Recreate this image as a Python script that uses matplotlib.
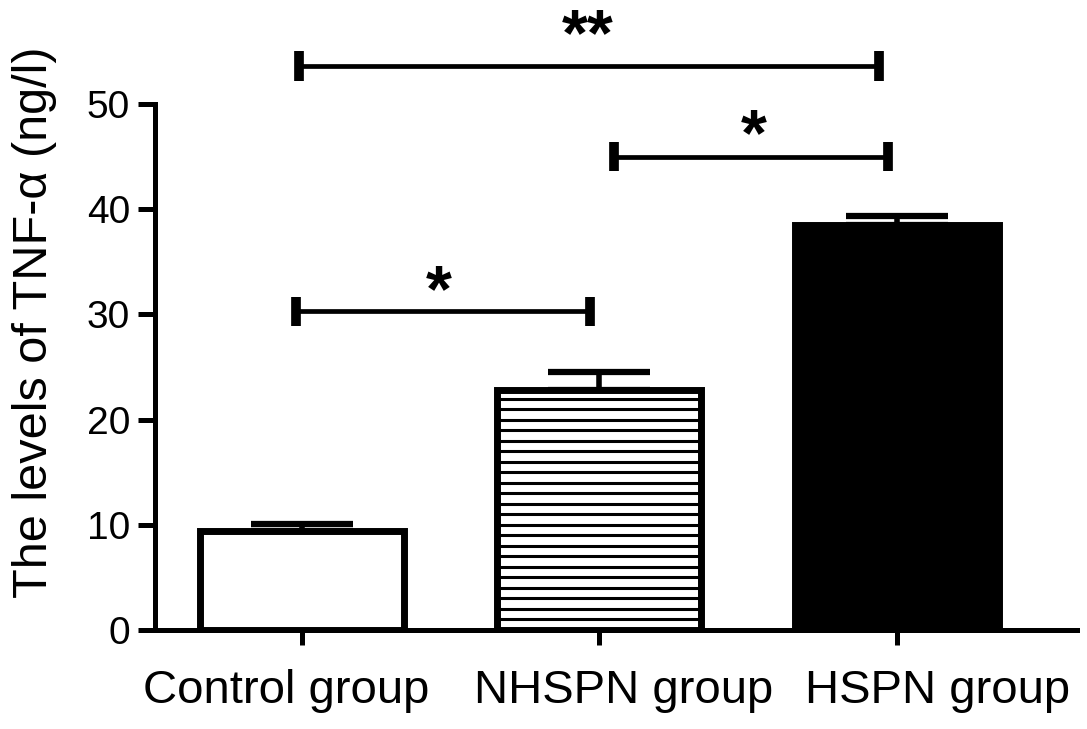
import matplotlib
matplotlib.use("Agg")
import matplotlib.pyplot as plt
import matplotlib.transforms as mtransforms
import numpy as np

groups = ["Control group", "NHSPN group", "HSPN group"]
means = [9.4, 22.8, 38.5]
errs = [0.7, 1.7, 0.9]

# significance brackets: start, end, height, star position, label
sig_x0 = [-0.02, 1.05, -0.01]
sig_x1 = [0.97, 1.97, 1.94]
sig_y = [30.3, 45.0, 53.6]
sig_star_x = [0.46, 1.52, 0.96]
sig_star_dy = [0, 1, 8]  # points above the bracket
sig_txt = ["*", "*", "**"]

plt.rcParams['font.family'] = ['Liberation Sans', 'DejaVu Sans']

fig = plt.figure(figsize=(10.87, 7.29), dpi=100)
ax = fig.add_axes([0.1426, 0.1358, 0.848, 0.7215])

x = np.arange(len(groups))
width = 0.686
colors = ['white', 'white', 'black']
bars = ax.bar(x, means, width=width, color=colors, edgecolor='black', linewidth=5, zorder=2)

# horizontal stripes in the NHSPN bar
stripe_y = np.arange(1, means[1], 1.0)
stripes = ax.hlines(stripe_y, x[1] - width / 2, x[1] + width / 2, color='black', linewidth=2.2, zorder=3)
stripes.set_clip_path(bars[1])

ax.errorbar(x, means, yerr=[[0, 0, 0], errs], fmt='none', ecolor='black',
            elinewidth=4, capsize=37, capthick=4.5, zorder=1)

ax.set_xlim(-0.494, 2.605)
ax.set_ylim(0, 50)
ax.set_yticks([0, 10, 20, 30, 40, 50])
ax.set_xticks(x)
ax.set_xticklabels(groups, fontsize=34)
ax.tick_params(axis='y', labelsize=28, length=12, width=3.6, pad=6)
ax.tick_params(axis='x', length=11, width=3.6, pad=17)

# the group labels sit slightly off their ticks in the original
label_shift = [-16, 24, 41]
for lab, dx in zip(ax.get_xticklabels(), label_shift):
    lab.set_transform(lab.get_transform() + mtransforms.ScaledTranslation(dx / 100, 0, fig.dpi_scale_trans))

for s in ['top', 'right']:
    ax.spines[s].set_visible(False)
for s in ['left', 'bottom']:
    ax.spines[s].set_linewidth(3.6)

fig.text(35 / 1087, 1 - 322 / 729, "The levels of TNF-α (ng/l)", rotation=90,
         ha='center', va='center', fontsize=35)

# significance brackets
for x0, x1, yy, sx, dy, t in zip(sig_x0, sig_x1, sig_y, sig_star_x, sig_star_dy, sig_txt):
    ax.plot([x0, x1], [yy, yy], color='black', lw=3.4, clip_on=False, solid_capstyle='butt')
    for xe in (x0, x1):
        ax.plot([xe, xe], [yy - 1.4, yy + 1.4], color='black', lw=7, clip_on=False, solid_capstyle='butt')
    ax.annotate(t, (sx, yy), xytext=(0, dy), textcoords='offset points', ha='center',
                va='baseline', fontsize=48, fontweight='bold', annotation_clip=False)

fig.savefig("out.png", dpi=100)
